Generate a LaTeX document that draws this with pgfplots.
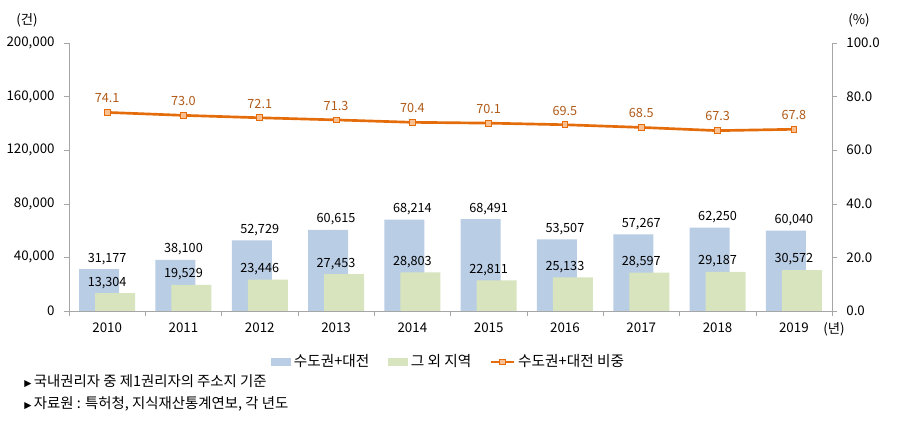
\documentclass[border=0pt]{standalone}
\usepackage{pgfplots}
\pgfplotsset{compat=1.18}
\usepackage{fontspec}
\setmainfont{Noto Sans CJK KR}
\newfontfamily\symfont{DejaVu Sans}
\definecolor{cblue}{HTML}{B9CDE5}
\definecolor{cgreen}{HTML}{D7E4BD}
\definecolor{corange}{HTML}{E46C0A}
\definecolor{cmark}{HTML}{FAC090}
\definecolor{clabel}{HTML}{B05A18}
\definecolor{caxis}{HTML}{A6A6A6}
\pgfplotsset{
  barleg/.style={legend image code/.code={\fill[##1] (0pt,-3pt) rectangle (15pt,3pt);}},
  lineleg/.style={legend image code/.code={\draw[mark repeat=2,mark phase=2,##1] plot coordinates {(0pt,0pt) (8.6pt,0pt) (17.2pt,0pt)};}},
}
\begin{document}
\begin{tikzpicture}[font=\fontsize{9.5}{11}\selectfont]
\path[use as bounding box] (0,0) rectangle (675pt,-320.25pt);
\begin{axis}[
  at={(51.75pt,-233.25pt)}, anchor=south west,
  scale only axis, width=572.25pt, height=201pt,
  xmin=-0.5, xmax=9.5, ymin=0, ymax=200000,
  axis x line*=bottom, axis y line*=left,
  axis line style={caxis,-},
  every outer x axis line/.append style={-},
  every outer y axis line/.append style={-},
  every inner x axis line/.append style={-},
  every inner y axis line/.append style={-},
  tick align=outside,
  xtick={0,...,9},
  xticklabels={2010,2011,2012,2013,2014,2015,2016,2017,2018,2019},
  major x tick style={draw=none},
  minor xtick={-0.5,0.5,...,9.5},
  minor x tick style={draw=caxis},
  minor tick length=4pt,
  ytick={0,40000,80000,120000,160000,200000},
  y tick style={draw=caxis},
  major tick length=3.75pt,
  scaled y ticks=false,
  /pgf/number format/.cd, fixed, precision=0, 1000 sep={,}, assume math mode=true, /pgfplots/.cd,
  tick label style={font=\fontsize{10}{12}\selectfont},
  yticklabel style={xshift=-3.5pt},
  xticklabel style={yshift=-1.5pt},
  legend columns=3,
  legend cell align=left,
  legend style={draw=none, fill=none, at={(0.498,-0.19)}, anchor=center,
    font=\fontsize{11}{13}\selectfont,
    /tikz/every even column/.append style={column sep=12pt}},
]
\addplot[ybar, bar width=30pt, bar shift=-6pt, fill=cblue, draw=none,
  nodes near coords, nodes near coords style={black, font=\fontsize{9.5}{11}\selectfont},
  barleg]
  coordinates {(0,31177) (1,38100) (2,52729) (3,60615) (4,68214) (5,68491) (6,53507) (7,57267) (8,62250) (9,60040)};
\addlegendentry{수도권+대전}
\addplot[ybar, bar width=30pt, bar shift=6pt, fill=cgreen, draw=none,
  nodes near coords, nodes near coords style={black, font=\fontsize{9.5}{11}\selectfont},
  barleg]
  coordinates {(0,13304) (1,19529) (2,23446) (3,27453) (4,28803) (5,22811) (6,25133) (7,28597) (8,29187) (9,30572)};
\addlegendentry{그 외 지역}
\addlegendimage{corange, line width=2pt, mark=square*, mark size=2.2pt, mark options={fill=cmark, draw=corange, line width=0.6pt}, lineleg}
\addlegendentry{수도권+대전 비중}
\end{axis}
\begin{axis}[
  at={(51.75pt,-233.25pt)}, anchor=south west,
  scale only axis, width=572.25pt, height=201pt,
  xmin=-0.5, xmax=9.5, ymin=0, ymax=100,
  axis x line=none, axis y line*=right,
  axis line style={caxis,-},
  every outer y axis line/.append style={-},
  every inner y axis line/.append style={-},
  tick align=outside,
  ytick={0,20,40,60,80,100},
  y tick style={draw=caxis},
  major tick length=3.75pt,
  /pgf/number format/.cd, fixed, fixed zerofill, precision=1, assume math mode=true, /pgfplots/.cd,
  tick label style={font=\fontsize{10}{12}\selectfont},
  yticklabel style={xshift=3.5pt},
]
\addplot[corange, line width=2pt, mark=square*, mark size=2.2pt, mark options={fill=cmark, draw=corange, line width=0.6pt},
  nodes near coords, nodes near coords style={clabel, font=\fontsize{9.5}{11}\selectfont, yshift=3.5pt}]
  coordinates {(0,74.1) (1,73.0) (2,72.1) (3,71.3) (4,70.4) (5,70.1) (6,69.5) (7,68.5) (8,67.3) (9,67.8)};
\end{axis}
\node at (20.25pt,-15pt) {\fontsize{10}{12}\selectfont(건)};
\node at (644.25pt,-15pt) {\fontsize{10}{12}\selectfont(\%)};
\node at (625.5pt,-247pt) {\fontsize{10}{12}\selectfont(년)};
\node[anchor=west, font=\fontsize{10.8}{13}\selectfont, inner sep=0pt] at (18pt,-285.75pt) {{\symfont\fontsize{7}{8}\selectfont ▶}\,국내권리자 중 제1권리자의 주소지 기준};
\node[anchor=west, font=\fontsize{10.8}{13}\selectfont, inner sep=0pt] at (18pt,-303pt) {{\symfont\fontsize{7}{8}\selectfont ▶}\,자료원 : 특허청, 지식재산통계연보, 각 년도};
\end{tikzpicture}
\end{document}
